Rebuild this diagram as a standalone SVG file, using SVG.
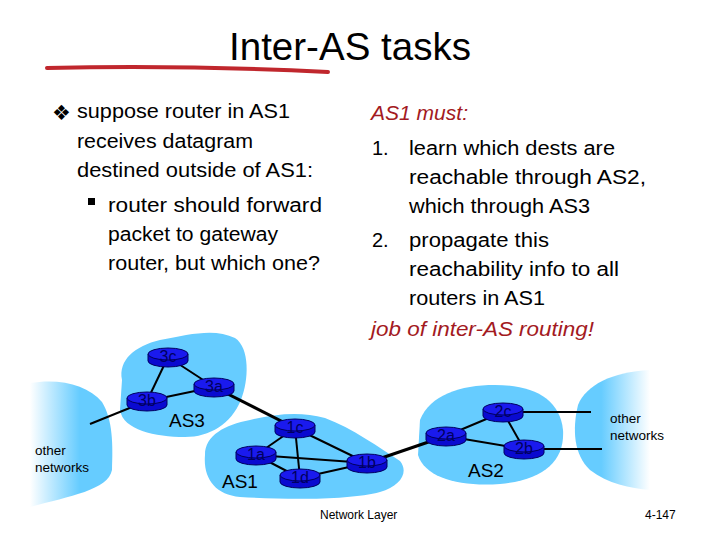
<svg xmlns="http://www.w3.org/2000/svg" xmlns:xlink="http://www.w3.org/1999/xlink" width="720" height="540" viewBox="0 0 720 540">
<style>
.t{font-family:"Liberation Sans",Arial,sans-serif;fill:#000}
.body{font-size:20px}
.red{fill:#a31a22;font-style:italic}
.lnk{stroke:#000;stroke-width:2;fill:none}
.thick{stroke-width:3}
.blob{fill:#66ccff}
.rl{font-family:"Liberation Sans",Arial,sans-serif;font-size:16px;fill:#000060;text-anchor:middle}
.as{font-family:"Liberation Sans",Arial,sans-serif;font-size:19px;fill:#000}
.small{font-family:"Liberation Sans",Arial,sans-serif;font-size:13.5px;fill:#000}
.foot{font-family:"Liberation Sans",Arial,sans-serif;font-size:12px;fill:#000}
</style>
<defs>
<linearGradient id="gl" x1="0" y1="0" x2="1" y2="0">
<stop offset="0" stop-color="#ffffff"/>
<stop offset="0.6" stop-color="#66ccff"/>
<stop offset="1" stop-color="#66ccff"/>
</linearGradient>
<linearGradient id="gr" x1="0" y1="0" x2="1" y2="0">
<stop offset="0" stop-color="#66ccff"/>
<stop offset="0.35" stop-color="#66ccff"/>
<stop offset="1" stop-color="#ffffff"/>
</linearGradient>
<g id="router">
<path d="M-20,-3 v7 a20,6 0 0 0 40,0 v-7 z" fill="#0a0ad0" stroke="#000060" stroke-width="1"/>
<ellipse cx="0" cy="-3" rx="20" ry="6" fill="#1a1aee" stroke="#000060" stroke-width="1"/>
</g>
</defs>
<rect width="720" height="540" fill="#fff"/>

<text class="t" x="229" y="60" font-size="39" textLength="242" lengthAdjust="spacingAndGlyphs">Inter-AS tasks</text>
<path d="M47,68 Q190,65 328,72" stroke="#c0272d" stroke-width="4" fill="none" stroke-linecap="round"/>

<text x="52" y="120" font-family="DejaVu Sans,sans-serif" font-size="21" fill="#000">❖</text>
<text class="t body" x="77" y="118" textLength="213" lengthAdjust="spacingAndGlyphs">suppose router in AS1</text>
<text class="t body" x="77" y="148" textLength="176" lengthAdjust="spacingAndGlyphs">receives datagram</text>
<text class="t body" x="77" y="177" textLength="236" lengthAdjust="spacingAndGlyphs">destined outside of AS1:</text>
<rect x="88" y="198" width="7" height="7" fill="#000"/>
<text class="t body" x="108" y="212" textLength="214" lengthAdjust="spacingAndGlyphs">router should forward</text>
<text class="t body" x="108" y="241" textLength="170" lengthAdjust="spacingAndGlyphs">packet to gateway</text>
<text class="t body" x="108" y="270" textLength="212" lengthAdjust="spacingAndGlyphs">router, but which one?</text>

<text class="t body red" x="371" y="120" textLength="97" lengthAdjust="spacingAndGlyphs">AS1 must:</text>
<text class="t body" x="372" y="155">1.</text>
<text class="t body" x="409" y="155" textLength="206" lengthAdjust="spacingAndGlyphs">learn which dests are</text>
<text class="t body" x="409" y="184" textLength="237" lengthAdjust="spacingAndGlyphs">reachable through AS2,</text>
<text class="t body" x="409" y="213" textLength="181" lengthAdjust="spacingAndGlyphs">which through AS3</text>
<text class="t body" x="372" y="247">2.</text>
<text class="t body" x="409" y="247" textLength="140" lengthAdjust="spacingAndGlyphs">propagate this</text>
<text class="t body" x="409" y="276" textLength="210" lengthAdjust="spacingAndGlyphs">reachability info to all</text>
<text class="t body" x="409" y="305" textLength="136" lengthAdjust="spacingAndGlyphs">routers in AS1</text>
<text class="t body red" x="371" y="336" textLength="223" lengthAdjust="spacingAndGlyphs">job of inter-AS routing!</text>

<g id="clouds">
<path id="other-left" d="M30,383 C60,378 88,385 102,402 C113,420 113,445 112,470 C108,490 70,496 30,507 Z" fill="url(#gl)"/>
<path id="other-right" d="M650,370 C612,372 586,385 578,405 C572,430 574,455 590,470 C608,484 630,488 650,490 Z" fill="url(#gr)"/>
<path id="as3-blob" class="blob" d="M122,380 C118,360 135,346 160,340 C190,334 215,328 235,338 C250,348 249,380 241,400 C231,424 210,437 185,437 C155,437 123,430 120,410 Z"/>
<path id="as1-blob" class="blob" d="M205,455 C205,435 225,425 250,420 C275,414 300,411 325,418 C352,428 380,448 400,461 C409,472 401,486 380,492 C350,500 290,500 240,497 C215,495 203,478 205,455 Z"/>
<path id="as2-blob" class="blob" d="M420,420 C430,395 460,385 495,385 C535,385 560,400 563,430 C565,460 545,480 500,484 C460,487 425,478 418,455 Z"/>
</g>

<g id="connectors">
<line class="lnk" x1="168" y1="357" x2="147" y2="401"/>
<line class="lnk" x1="168" y1="357" x2="214" y2="387"/>
<line class="lnk" x1="147" y1="401" x2="214" y2="387"/>
<line class="lnk" x1="147" y1="401" x2="90" y2="424"/>
<line class="lnk thick" x1="214" y1="387" x2="295" y2="428"/>
<line class="lnk" x1="295" y1="428" x2="256" y2="455"/>
<line class="lnk" x1="295" y1="428" x2="300" y2="478"/>
<line class="lnk" x1="295" y1="428" x2="367" y2="463"/>
<line class="lnk" x1="256" y1="455" x2="300" y2="478"/>
<line class="lnk" x1="256" y1="455" x2="367" y2="463"/>
<line class="lnk" x1="300" y1="478" x2="367" y2="463"/>
<line class="lnk thick" x1="367" y1="463" x2="446" y2="436"/>
<line class="lnk" x1="446" y1="436" x2="503" y2="412"/>
<line class="lnk" x1="446" y1="436" x2="524" y2="449"/>
<line class="lnk" x1="503" y1="412" x2="524" y2="449"/>
<line class="lnk" x1="503" y1="412" x2="591" y2="412" stroke-width="1.2"/>
<line class="lnk" x1="524" y1="449" x2="602" y2="449" stroke-width="1.2"/>
</g>

<g id="r3c" transform="translate(168,357)"><use xlink:href="#router"/><text class="rl" x="0" y="5">3c</text></g>
<g id="r3a" transform="translate(214,387)"><use xlink:href="#router"/><text class="rl" x="0" y="5">3a</text></g>
<g id="r3b" transform="translate(147,401)"><use xlink:href="#router"/><text class="rl" x="0" y="5">3b</text></g>
<g id="r1c" transform="translate(295,428)"><use xlink:href="#router"/><text class="rl" x="0" y="5">1c</text></g>
<g id="r1a" transform="translate(256,455)"><use xlink:href="#router"/><text class="rl" x="0" y="5">1a</text></g>
<g id="r1d" transform="translate(300,478)"><use xlink:href="#router"/><text class="rl" x="0" y="5">1d</text></g>
<g id="r1b" transform="translate(367,463)"><use xlink:href="#router"/><text class="rl" x="0" y="5">1b</text></g>
<g id="r2a" transform="translate(446,436)"><use xlink:href="#router"/><text class="rl" x="0" y="5">2a</text></g>
<g id="r2c" transform="translate(503,412)"><use xlink:href="#router"/><text class="rl" x="0" y="5">2c</text></g>
<g id="r2b" transform="translate(524,449)"><use xlink:href="#router"/><text class="rl" x="0" y="5">2b</text></g>

<text class="as" x="169" y="427">AS3</text>
<text class="as" x="222" y="488">AS1</text>
<text class="as" x="468" y="477">AS2</text>

<text class="small" x="35" y="455">other</text>
<text class="small" x="35" y="472">networks</text>
<text class="small" x="610" y="423">other</text>
<text class="small" x="610" y="440">networks</text>

<text class="foot" x="320" y="519">Network Layer</text>
<text class="foot" x="645" y="519">4-147</text>
</svg>
